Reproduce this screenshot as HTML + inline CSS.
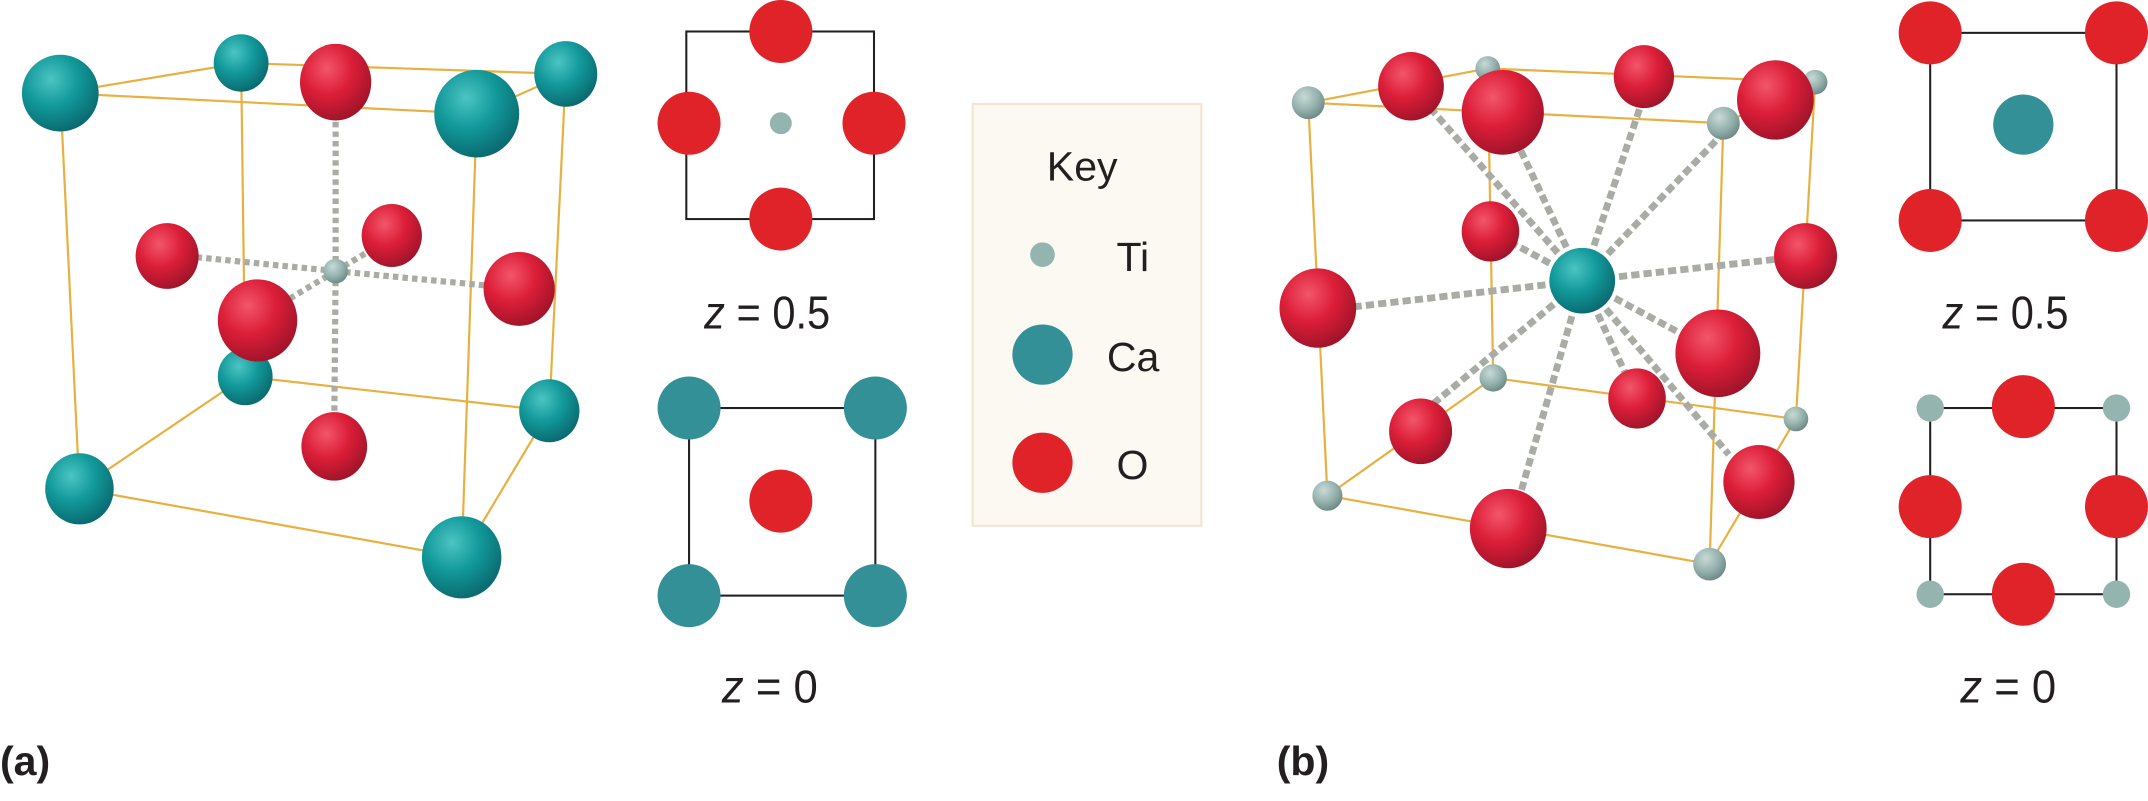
<!DOCTYPE html>
<html><head><meta charset="utf-8"><style>
html,body{margin:0;padding:0;background:#fff;}
svg{display:block;}
text{font-family:"Liberation Sans",sans-serif;fill:#231f20;}
</style></head><body>
<svg width="2148" height="801" viewBox="0 0 1568 585" preserveAspectRatio="none" xmlns="http://www.w3.org/2000/svg">
<defs>
<radialGradient id="gC" cx="0.38" cy="0.32" r="0.7"><stop offset="0" stop-color="#4cc4c4"/><stop offset="0.5" stop-color="#12999a"/><stop offset="1" stop-color="#0a6a70"/></radialGradient>
<radialGradient id="gO" cx="0.38" cy="0.32" r="0.7"><stop offset="0" stop-color="#f2566a"/><stop offset="0.5" stop-color="#dc1e38"/><stop offset="1" stop-color="#a0142a"/></radialGradient>
<radialGradient id="gT" cx="0.38" cy="0.32" r="0.7"><stop offset="0" stop-color="#c8dad6"/><stop offset="0.6" stop-color="#94b0ac"/><stop offset="1" stop-color="#6e8a86"/></radialGradient>
</defs>

<!-- Panel a cube -->
<g stroke="#e8b040" stroke-width="1.6" fill="none">
<line x1="44" y1="68" x2="348" y2="83"/><line x1="44" y1="68" x2="176" y2="46"/>
<line x1="176" y1="46" x2="413" y2="54"/><line x1="348" y1="83" x2="413" y2="54"/>
<line x1="44" y1="68" x2="58" y2="357"/><line x1="348" y1="83" x2="337" y2="407"/>
<line x1="413" y1="54" x2="401" y2="300"/><line x1="176" y1="46" x2="179" y2="275"/>
<line x1="58" y1="357" x2="337" y2="407"/><line x1="58" y1="357" x2="179" y2="275"/>
<line x1="179" y1="275" x2="401" y2="300"/><line x1="337" y1="407" x2="401" y2="300"/>
</g>
<g fill="url(#gC)">
<ellipse cx="176" cy="46" rx="20" ry="21"/><ellipse cx="413" cy="54" rx="23" ry="24"/><ellipse cx="179" cy="275" rx="20" ry="21"/><ellipse cx="401" cy="300" rx="22" ry="23"/>
</g>
<g stroke="#a9aca4" stroke-width="4.5" stroke-dasharray="4 3">
<line x1="245" y1="198" x2="245" y2="72"/><line x1="245" y1="198" x2="135" y2="187"/>
<line x1="245" y1="198" x2="282" y2="176"/><line x1="245" y1="198" x2="360" y2="209"/>
<line x1="245" y1="198" x2="205" y2="222"/><line x1="245" y1="198" x2="244" y2="310"/>
</g>
<g fill="url(#gO)">
<ellipse cx="245" cy="60" rx="26" ry="28"/><ellipse cx="122" cy="187" rx="23" ry="24"/><ellipse cx="286" cy="172" rx="22" ry="23"/>
<ellipse cx="379" cy="211" rx="26" ry="27"/><ellipse cx="244" cy="326" rx="24" ry="25"/>
</g>
<circle cx="245" cy="198" r="9" fill="url(#gT)"/>
<ellipse cx="188" cy="234" rx="29" ry="30" fill="url(#gO)"/>
<g fill="url(#gC)">
<ellipse cx="44" cy="68" rx="28" ry="28"/><ellipse cx="348" cy="83" rx="31" ry="32"/><ellipse cx="58" cy="357" rx="25" ry="26"/><ellipse cx="337" cy="407" rx="29" ry="30"/>
</g>

<!-- Panel a projections -->
<rect x="501" y="23" width="137" height="137" fill="none" stroke="#231f20" stroke-width="1.5"/>
<g fill="#e02328">
<circle cx="570" cy="23" r="23"/><circle cx="503" cy="90" r="23"/><circle cx="638" cy="90" r="23"/><circle cx="570" cy="160" r="23"/>
</g>
<circle cx="570" cy="90" r="8" fill="#94b4b0"/>
<text x="560" y="240" font-size="34" text-anchor="middle" textLength="92" lengthAdjust="spacingAndGlyphs"><tspan font-style="italic">z</tspan> = 0.5</text>
<rect x="503" y="298" width="136" height="137" fill="none" stroke="#231f20" stroke-width="1.5"/>
<g fill="#339097">
<circle cx="503" cy="298" r="23"/><circle cx="639" cy="298" r="23"/><circle cx="503" cy="435" r="23"/><circle cx="639" cy="435" r="23"/>
</g>
<circle cx="570" cy="366" r="23" fill="#e02328"/>
<text x="562" y="513" font-size="34" text-anchor="middle" textLength="70" lengthAdjust="spacingAndGlyphs"><tspan font-style="italic">z</tspan> = 0</text>

<!-- Key -->
<rect x="710" y="76" width="167" height="308" fill="#fcf9f3" stroke="#f3e4cc" stroke-width="1.5"/>
<text x="790" y="132" font-size="30" text-anchor="middle">Key</text>
<circle cx="761" cy="186" r="9" fill="#94b4b0"/><text x="815" y="198" font-size="30">Ti</text>
<circle cx="761" cy="259" r="22" fill="#339097"/><text x="808" y="271" font-size="30">Ca</text>
<circle cx="761" cy="338" r="22" fill="#e02328"/><text x="815" y="350" font-size="30">O</text>

<!-- Panel b cube -->
<g stroke="#e8b040" stroke-width="1.6" fill="none">
<line x1="955" y1="75" x2="1258" y2="90"/><line x1="955" y1="75" x2="1086" y2="50"/>
<line x1="1086" y1="50" x2="1325" y2="60"/><line x1="1258" y1="90" x2="1325" y2="60"/>
<line x1="955" y1="75" x2="969" y2="362"/><line x1="1258" y1="90" x2="1248" y2="412"/>
<line x1="1325" y1="60" x2="1311" y2="306"/><line x1="1086" y1="50" x2="1090" y2="276"/>
<line x1="969" y1="362" x2="1248" y2="412"/><line x1="969" y1="362" x2="1090" y2="276"/>
<line x1="1090" y1="276" x2="1311" y2="306"/><line x1="1248" y1="412" x2="1311" y2="306"/>
</g>
<g fill="url(#gT)">
<circle cx="1086" cy="50" r="9"/><circle cx="1325" cy="60" r="9"/><circle cx="1090" cy="276" r="10"/><circle cx="1311" cy="306" r="9"/>
</g>
<g stroke="#a9aca4" stroke-width="5" stroke-dasharray="6 3">
<line x1="1155" y1="205" x2="1030" y2="63"/><line x1="1155" y1="205" x2="1097" y2="82"/>
<line x1="1155" y1="205" x2="1200" y2="70"/><line x1="1155" y1="205" x2="1260" y2="95"/>
<line x1="1155" y1="205" x2="1088" y2="169"/><line x1="1155" y1="205" x2="1318" y2="187"/>
<line x1="1155" y1="205" x2="980" y2="225"/><line x1="1155" y1="205" x2="1254" y2="258"/>
<line x1="1155" y1="205" x2="1195" y2="291"/><line x1="1155" y1="205" x2="1040" y2="300"/>
<line x1="1155" y1="205" x2="1262" y2="332"/><line x1="1155" y1="205" x2="1110" y2="360"/>
</g>
<g fill="url(#gO)">
<ellipse cx="1030" cy="63" rx="24" ry="25"/><ellipse cx="1200" cy="56" rx="22" ry="23"/><ellipse cx="1088" cy="169" rx="21" ry="22"/>
<ellipse cx="1318" cy="187" rx="23" ry="24"/><ellipse cx="1195" cy="291" rx="21" ry="22"/>
</g>
<ellipse cx="1155" cy="205" rx="24" ry="24" fill="url(#gC)"/>
<g fill="url(#gO)">
<ellipse cx="1097" cy="82" rx="30" ry="31"/><ellipse cx="1296" cy="73" rx="28" ry="29"/><ellipse cx="962" cy="225" rx="28" ry="29"/>
<ellipse cx="1254" cy="258" rx="31" ry="32"/><ellipse cx="1037" cy="315" rx="23" ry="24"/><ellipse cx="1284" cy="352" rx="26" ry="27"/><ellipse cx="1101" cy="386" rx="28" ry="29"/>
</g>
<g fill="url(#gT)">
<circle cx="955" cy="75" r="12"/><circle cx="1258" cy="90" r="12"/><circle cx="969" cy="362" r="11"/><circle cx="1248" cy="412" r="12"/>
</g>

<!-- Panel b projections -->
<rect x="1409" y="24" width="136" height="137" fill="none" stroke="#231f20" stroke-width="1.5"/>
<g fill="#e02328">
<circle cx="1409" cy="24" r="23"/><circle cx="1545" cy="24" r="23"/><circle cx="1409" cy="161" r="23"/><circle cx="1545" cy="161" r="23"/>
</g>
<circle cx="1477" cy="91" r="22" fill="#339097"/>
<text x="1464" y="240" font-size="34" text-anchor="middle" textLength="92" lengthAdjust="spacingAndGlyphs"><tspan font-style="italic">z</tspan> = 0.5</text>
<rect x="1409" y="298" width="136" height="136" fill="none" stroke="#231f20" stroke-width="1.5"/>
<g fill="#94b4b0">
<circle cx="1409" cy="298" r="10"/><circle cx="1545" cy="298" r="10"/><circle cx="1409" cy="434" r="10"/><circle cx="1545" cy="434" r="10"/>
</g>
<g fill="#e02328">
<circle cx="1477" cy="297" r="23"/><circle cx="1409" cy="370" r="23"/><circle cx="1545" cy="370" r="23"/><circle cx="1477" cy="434" r="23"/>
</g>
<text x="1466" y="513" font-size="34" text-anchor="middle" textLength="70" lengthAdjust="spacingAndGlyphs"><tspan font-style="italic">z</tspan> = 0</text>

<text x="0" y="566" font-size="30" font-weight="bold">(a)</text>
<text x="932" y="566" font-size="30" font-weight="bold">(b)</text>
</svg>
</body></html>
